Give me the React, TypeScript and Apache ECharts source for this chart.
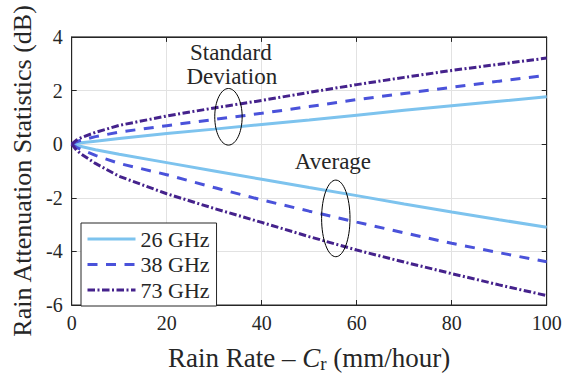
import { useEffect, useRef } from "react";
import * as echarts from "echarts";

// Rain rate Cr (mm/hour)
const rainRate = [0, 1, 2, 5, 10, 20, 30, 40, 50, 60, 70, 80, 90, 100];

// Standard deviation (dB)
const std26 = [0, 0.03, 0.05, 0.11, 0.21, 0.4, 0.56, 0.73, 0.9, 1.08, 1.26, 1.43, 1.6, 1.77];
const std38 = [0, 0.09, 0.15, 0.28, 0.45, 0.69, 0.92, 1.15, 1.4, 1.66, 1.89, 2.12, 2.35, 2.57];
const std73 = [0, 0.15, 0.24, 0.44, 0.7, 1.05, 1.35, 1.63, 1.93, 2.22, 2.49, 2.75, 2.98, 3.21];

// Average (dB)
const avg26 = [0, -0.05, -0.09, -0.21, -0.38, -0.69, -1.0, -1.31, -1.62, -1.92, -2.23, -2.53, -2.82, -3.1];
const avg38 = [0, -0.12, -0.2, -0.42, -0.72, -1.14, -1.62, -2.08, -2.5, -2.91, -3.31, -3.7, -4.05, -4.39];
const avg73 = [0, -0.22, -0.37, -0.72, -1.2, -1.85, -2.4, -2.92, -3.45, -3.95, -4.4, -4.83, -5.25, -5.65];

const legendNames = ["26 GHz", "38 GHz", "73 GHz"];

// Annotation anchors in data coordinates
const annotationTexts = [
  { text: "Standard", at: [33.5, 3.4] },
  { text: "Deviation", at: [33.7, 2.53] },
  { text: "Average", at: [55.0, -0.63] },
];
const annotationEllipses = [
  { at: [33.0, 1.02], rx: 13.7, ry: 28.3 },
  { at: [55.6, -2.77], rx: 14.2, ry: 38.3 },
];

const FONT = "Liberation Serif";
const TXT = "#262626";
const GRID = "#e2e2e2";
const C26 = "#7DC3EE";
const C38 = "#4A52DA";
const C73 = "#45228C";

const styles: Record<string, { color: string; type: any }> = {
  "26 GHz": { color: C26, type: "solid" },
  "38 GHz": { color: C38, type: [10, 8.5] },
  "73 GHz": { color: C73, type: [7.5, 2.5, 2, 2.5] },
};

function mk(name: string, ys: number[]) {
  const s = styles[name];
  return {
    type: "line",
    name,
    data: rainRate.map((x, i) => [x, ys[i]]),
    symbol: "none",
    showSymbol: false,
    smooth: false,
    lineStyle: { color: s.color, width: 3, type: s.type, cap: "butt" },
    itemStyle: { color: s.color },
    xAxisIndex: 0,
    yAxisIndex: 0,
  };
}

export default function App() {
  const ref = useRef<HTMLDivElement>(null);
  useEffect(() => {
    if (!ref.current) return;
    const chart = echarts.init(ref.current, undefined, { renderer: "svg" });
    const axisLine = { show: true, onZero: false, lineStyle: { color: TXT, width: 1 } };
    const tick = { show: true, inside: true, length: 5, lineStyle: { color: TXT, width: 1 } };
    const option: any = {
      animation: false,
      backgroundColor: "#ffffff",
      textStyle: { fontFamily: FONT },
      grid: {
        left: 71.7,
        right: 26.3,
        top: 36.9,
        bottom: 62.1,
        show: true,
        borderColor: TXT,
        borderWidth: 1,
        backgroundColor: "transparent",
      },
      legend: {
        orient: "vertical",
        left: 81,
        top: 223,
        data: legendNames,
        itemWidth: 48,
        itemHeight: 14,
        itemGap: 3.5,
        padding: [5, 7, 5, 5],
        borderColor: TXT,
        borderWidth: 1,
        borderRadius: 0,
        backgroundColor: "#ffffff",
        lineStyle: { width: 3 },
        itemStyle: { opacity: 0 },
        textStyle: { fontSize: 22, fontFamily: FONT, color: TXT },
      },
      xAxis: [
        {
          type: "value",
          min: 0,
          max: 100,
          interval: 20,
          position: "bottom",
          axisLine,
          axisTick: tick,
          axisLabel: { color: TXT, fontSize: 20, fontFamily: FONT, margin: 8 },
          splitLine: { show: true, lineStyle: { color: GRID, width: 1 } },
          name: "{n|Rain Rate – }{i|C}{s|r}{n| (mm/hour)}",
          nameLocation: "middle",
          nameGap: 37,
          nameTextStyle: {
            color: TXT,
            fontFamily: FONT,
            fontSize: 27,
            rich: {
              n: { fontSize: 27, fontFamily: FONT, color: TXT, lineHeight: 31, verticalAlign: "middle" },
              i: { fontSize: 27, fontFamily: FONT, color: TXT, fontStyle: "italic", lineHeight: 31, verticalAlign: "middle" },
              s: { fontSize: 19, fontFamily: FONT, color: TXT, lineHeight: 19, verticalAlign: "bottom" },
            },
          },
        },
        {
          type: "value",
          min: 0,
          max: 100,
          interval: 20,
          position: "top",
          axisLine,
          axisTick: tick,
          axisLabel: { show: false },
          splitLine: { show: false },
        },
      ],
      yAxis: [
        {
          type: "value",
          min: -6,
          max: 4,
          interval: 2,
          position: "left",
          axisLine,
          axisTick: tick,
          axisLabel: { color: TXT, fontSize: 20, fontFamily: FONT, margin: 9 },
          splitLine: { show: true, lineStyle: { color: GRID, width: 1 } },
          name: "Rain Attenuation Statistics (dB)",
          nameLocation: "middle",
          nameGap: 30,
          nameTextStyle: { color: TXT, fontFamily: FONT, fontSize: 26 },
        },
        {
          type: "value",
          min: -6,
          max: 4,
          interval: 2,
          position: "right",
          axisLine,
          axisTick: tick,
          axisLabel: { show: false },
          splitLine: { show: false },
        },
      ],
      series: [
        mk("26 GHz", std26),
        mk("26 GHz", avg26),
        mk("38 GHz", std38),
        mk("38 GHz", avg38),
        mk("73 GHz", std73),
        mk("73 GHz", avg73),
      ],
    };
    chart.setOption(option);

    const toPx = (p: number[]) => chart.convertToPixel({ seriesIndex: 0 }, p) as number[];
    const graphics: any[] = [];
    annotationEllipses.forEach((e) => {
      const [cx, cy] = toPx(e.at);
      graphics.push({
        type: "ellipse",
        shape: { cx, cy, rx: e.rx, ry: e.ry },
        style: { fill: "none", stroke: "#000000", lineWidth: 1 },
        z: 100,
      });
    });
    annotationTexts.forEach((t) => {
      const [x, y] = toPx(t.at);
      graphics.push({
        type: "text",
        x,
        y,
        style: {
          text: t.text,
          fontSize: 23,
          fontFamily: FONT,
          fill: TXT,
          align: "center",
          verticalAlign: "middle",
        },
        z: 100,
      });
    });
    chart.setOption({ graphic: graphics });

    return () => chart.dispose();
  }, []);
  return (
    <div
      ref={ref}
      style={{ position: "absolute", left: 0, top: 0, width: 573, height: 378 }}
    />
  );
}
